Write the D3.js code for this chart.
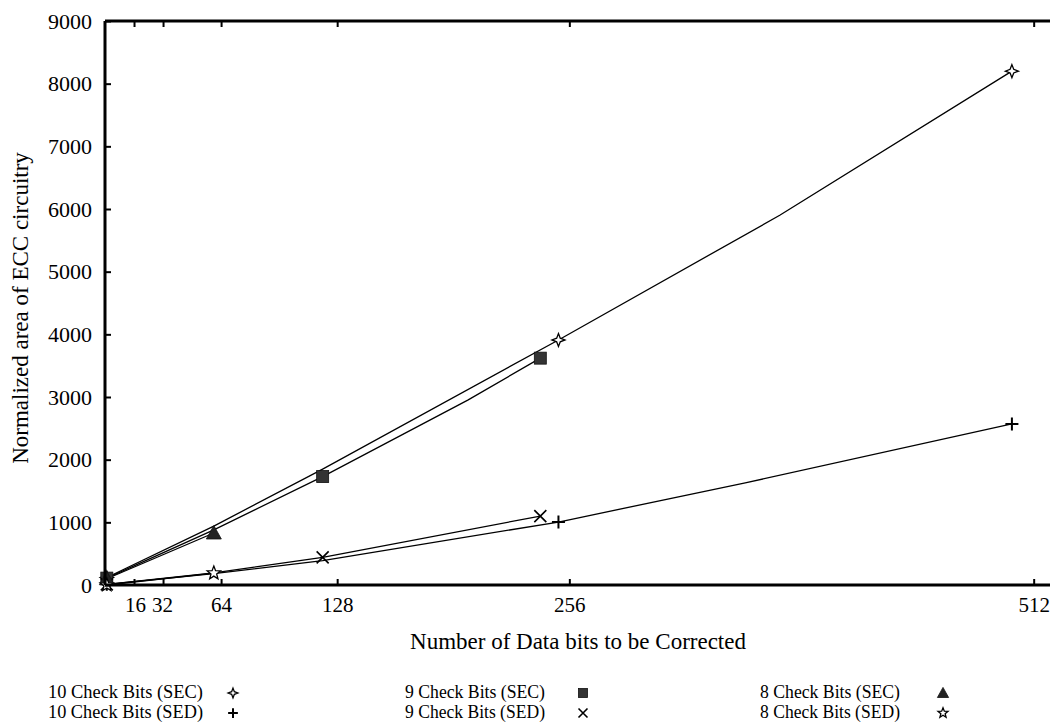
<!DOCTYPE html>
<html>
<head>
<meta charset="utf-8">
<script src="https://cdn.jsdelivr.net/npm/d3@7/dist/d3.min.js"></script>
<style>
  html, body { margin: 0; padding: 0; background: #fff; }
  svg { display: block; font-family: "Liberation Serif", "DejaVu Serif", serif; }
</style>
</head>
<body>
<svg id="chart" width="1050" height="723"></svg>
<script>
// Tick values and labels
const xTicks = [16, 32, 64, 128, 256, 512];
const yTicks = [0, 1000, 2000, 3000, 4000, 5000, 6000, 7000, 8000, 9000];

// Data bits to be corrected (x) and normalized ECC area (y) for each curve
const sec10Bits = [1, 60, 120, 250, 372, 500];
const sec10Area = [120, 940, 1850, 3910, 5900, 8200];
const sec10Marks = [1, 250, 500];

const sec9Bits = [1, 60, 120, 200, 240];
const sec9Area = [110, 880, 1730, 2950, 3620];
const sec9Marks = [1, 120, 240];

const sec8Bits = [1, 60];
const sec8Area = [100, 830];
const sec8Marks = [1, 60];

const sed10Bits = [1, 60, 120, 250, 353, 500];
const sed10Area = [10, 180, 390, 1005, 1630, 2570];
const sed10Marks = [1, 250, 500];

const sed9Bits = [1, 60, 120, 240];
const sed9Area = [10, 195, 440, 1100];
const sed9Marks = [1, 120, 240];

const sed8Bits = [1, 60];
const sed8Area = [0, 190];
const sed8Marks = [1, 60];

const legendLabels = [
  "10 Check Bits (SEC)", "10 Check Bits (SED)",
  "9 Check Bits (SEC)", "9 Check Bits (SED)",
  "8 Check Bits (SEC)", "8 Check Bits (SED)"
];

const series = [
  { bits: sec10Bits, area: sec10Area, marks: sec10Marks, shape: "diamond" },
  { bits: sed10Bits, area: sed10Area, marks: sed10Marks, shape: "plus" },
  { bits: sec9Bits, area: sec9Area, marks: sec9Marks, shape: "square" },
  { bits: sed9Bits, area: sed9Area, marks: sed9Marks, shape: "cross" },
  { bits: sec8Bits, area: sec8Area, marks: sec8Marks, shape: "triangle" },
  { bits: sed8Bits, area: sed8Area, marks: sed8Marks, shape: "star" }
];

const svg = d3.select("#chart");
const plotLeft = 105, plotRight = 1050, plotTop = 21, plotBottom = 585;

const x = d3.scaleLinear().domain([0, 521]).range([plotLeft, plotRight]);
const y = d3.scaleLinear().domain([0, 9000]).range([plotBottom, plotTop]);

// Marker drawing
function drawMarker(g, shape, s) {
  s = s || 1;
  if (shape === "diamond") {
    const a = 6.5 * s, b = 1.8 * s;
    g.append("path")
      .attr("d", `M0,${-a}L${b},${-b}L${a},0L${b},${b}L0,${a}L${-b},${b}L${-a},0L${-b},${-b}Z`)
      .attr("fill", "#fff").attr("stroke", "#000").attr("stroke-width", 1.3);
  } else if (shape === "square") {
    const h = 6 * s;
    g.append("rect").attr("x", -h).attr("y", -h).attr("width", 2 * h).attr("height", 2 * h)
      .attr("fill", "#333").attr("stroke", "#111").attr("stroke-width", 0.8);
  } else if (shape === "triangle") {
    const h = 7.5 * s;
    g.append("path").attr("d", `M0,${-h}L${h},${h * 0.8}L${-h},${h * 0.8}Z`)
      .attr("fill", "#222").attr("stroke", "#111").attr("stroke-width", 0.8);
  } else if (shape === "star") {
    const pts = [];
    for (let i = 0; i < 10; i++) {
      const r = (i % 2 === 0 ? 7 : 3) * s;
      const ang = -Math.PI / 2 + i * Math.PI / 5;
      pts.push([r * Math.cos(ang), r * Math.sin(ang)]);
    }
    g.append("path").attr("d", "M" + pts.map(p => p.join(",")).join("L") + "Z")
      .attr("fill", "#fff").attr("stroke", "#000").attr("stroke-width", 1.3);
  } else if (shape === "cross") {
    const h = 6 * s;
    g.append("path").attr("d", `M${-h},${-h}L${h},${h}M${h},${-h}L${-h},${h}`)
      .attr("stroke", "#000").attr("stroke-width", 1.6).attr("fill", "none");
  } else if (shape === "plus") {
    const h = 6.5 * s;
    g.append("path").attr("d", `M${-h},0L${h},0M0,${-h}L0,${h}`)
      .attr("stroke", "#000").attr("stroke-width", 2).attr("fill", "none");
  }
}

// Curves
const line = d3.line().x(d => x(d[0])).y(d => y(d[1]));
series.forEach(s => {
  const pts = s.bits.map((b, i) => [b, s.area[i]]);
  svg.append("path").datum(pts).attr("d", line)
    .attr("fill", "none").attr("stroke", "#000").attr("stroke-width", 1.3);
});
series.forEach(s => {
  s.marks.forEach(m => {
    const i = s.bits.indexOf(m);
    const g = svg.append("g").attr("transform", `translate(${x(m)},${y(s.area[i])})`);
    drawMarker(g, s.shape);
  });
});

// Axes (ticks point inward)
const xAxis = svg.append("g").attr("transform", `translate(0,${plotBottom})`)
  .call(d3.axisBottom(x).tickValues(xTicks).tickSize(-6).tickPadding(12).tickFormat(d3.format("d")));
xAxis.select(".domain").remove();
xAxis.selectAll("line").attr("stroke", "#000").attr("stroke-width", 2);
xAxis.selectAll("text").attr("font-size", 21).attr("fill", "#000")
  .attr("font-family", "Liberation Serif")
  .attr("dx", d => d === 16 ? 1 : d === 32 ? -1 : 0);

const xTopAxis = svg.append("g").attr("transform", `translate(0,${plotTop})`)
  .call(d3.axisTop(x).tickValues(xTicks).tickSize(-6).tickFormat(""));
xTopAxis.select(".domain").remove();
xTopAxis.selectAll("line").attr("stroke", "#000").attr("stroke-width", 2);

const yAxis = svg.append("g").attr("transform", `translate(${plotLeft},0)`)
  .call(d3.axisLeft(y).tickValues(yTicks).tickSize(-6).tickPadding(13).tickFormat(d3.format("d")));
yAxis.select(".domain").remove();
yAxis.selectAll("line").attr("stroke", "#000").attr("stroke-width", 2);
yAxis.selectAll("text").attr("font-size", 22).attr("fill", "#000")
  .attr("font-family", "Liberation Serif");

// Frame
svg.append("path")
  .attr("d", `M${plotLeft},${plotTop}L${plotRight + 5},${plotTop}M${plotLeft},${plotTop}L${plotLeft},${plotBottom}M${plotLeft},${plotBottom}L${plotRight + 5},${plotBottom}`)
  .attr("stroke", "#000").attr("stroke-width", 3).attr("fill", "none");

// Axis titles
svg.append("text").attr("x", 578).attr("y", 649)
  .attr("text-anchor", "middle").attr("font-size", 23)
  .text("Number of Data bits to be Corrected");
svg.append("text").attr("transform", `translate(28,308) rotate(-90)`)
  .attr("text-anchor", "middle").attr("font-size", 23)
  .text("Normalized area of ECC circuitry");

// Legend: three columns, two rows (condensed serif text)
const legTextStart = [48, 405, 760];
const legTextWidth = [155, 140, 140];
const legMarkX = [233, 583, 943];
const legRowY = [698, 718];
legendLabels.forEach((lab, i) => {
  const col = Math.floor(i / 2), row = i % 2;
  svg.append("text").attr("x", legTextStart[col]).attr("y", legRowY[row])
    .attr("font-size", 18)
    .attr("textLength", legTextWidth[col]).attr("lengthAdjust", "spacingAndGlyphs")
    .text(lab);
  const g = svg.append("g").attr("transform", `translate(${legMarkX[col]},${legRowY[row] - 5})`);
  drawMarker(g, series[i].shape, 0.75);
});
</script>
</body>
</html>
